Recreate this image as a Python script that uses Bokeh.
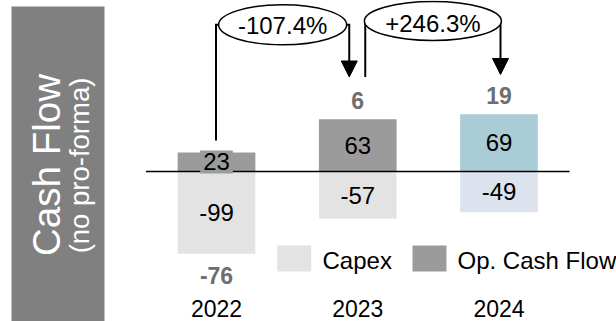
import numpy as np
from bokeh.plotting import figure
from bokeh.models import Range1d, Arrow, NormalHead, ColumnDataSource
from bokeh.core.properties import value
from bokeh.embed import file_html
from bokeh.resources import INLINE

# ---- data -------------------------------------------------------------
years = ["2022", "2023", "2024"]
op_cash_flow = [23, 63, 69]
capex = [-99, -57, -49]
net_cash_flow = [-76, 6, 19]
yoy_change = ["-107.4%", "+246.3%"]
legend_labels = ["Capex", "Op. Cash Flow"]

# ---- styling ----------------------------------------------------------
op_colors = ["#9b9b9b", "#9b9b9b", "#a9ccd6"]
capex_colors = ["#e3e3e3", "#e3e3e3", "#dce3ee"]
net_color = "#6e6e6e"
band_color = "#808080"
FONT = "Liberation Sans"

W, H = 616, 321
PX_PER_CAT = 141.25   # horizontal pixels between year slots
PX_PER_UNIT = 0.83    # vertical pixels per unit of value
X0 = 216              # pixel column of the first year slot
Y0 = 171              # pixel row of the zero line


def dx(px):
    return (px - X0) / PX_PER_CAT


def dy(py):
    return (Y0 - py) / PX_PER_UNIT


def label(x, y, text, size, color="black", **kw):
    kw.setdefault("text_align", "center")
    p.text(x=x, y=y, text=text, text_baseline="middle", text_color=color,
           text_font=value(FONT), text_font_size=value(size), **kw)


p = figure(width=W, height=H,
           x_range=Range1d(dx(0), dx(W)), y_range=Range1d(dy(H), dy(0)),
           x_axis_type=None, y_axis_type=None,
           toolbar_location=None, output_backend="svg",
           min_border=0, outline_line_color=None,
           background_fill_color="white", border_fill_color="white")
p.grid.visible = False

# ---- side title band --------------------------------------------------
p.quad(left=dx(11), right=dx(104), top=dy(6), bottom=dy(H),
       fill_color=band_color, line_color=None)
label([dx(45.5)], [dy(164.5)], ["Cash Flow"], "38.5px", "white", angle=np.pi / 2)
label([dx(78.5)], [dy(165)], ["(no pro-forma)"], "27.5px", "white", angle=np.pi / 2)

# ---- bars -------------------------------------------------------------
idx = np.arange(len(years), dtype=float)
BAR_W = 0.55
src = ColumnDataSource(dict(
    x=idx,
    op=op_cash_flow,
    capex=capex,
    op_mid=[v / 2 for v in op_cash_flow],
    capex_mid=[v / 2 for v in capex],
    op_txt=[str(v) for v in op_cash_flow],
    capex_txt=[str(v) for v in capex],
    op_color=op_colors,
    capex_color=capex_colors,
))
p.vbar(x="x", top="capex", bottom=0, width=BAR_W, fill_color="capex_color",
       line_color=None, source=src)
p.vbar(x="x", top="op", bottom=0, width=BAR_W, fill_color="op_color",
       line_color=None, source=src)

# zero line spanning the year slots
p.line(x=[idx[0] - 0.5, idx[-1] + 0.5], y=[0, 0], line_color="black", line_width=1.5)

# value labels inside the bars
label("x", "op_mid", "op_txt", "24px", source=src,
      background_fill_color="op_color", padding=3)
label("x", "capex_mid", "capex_txt", "24px", source=src)

# net totals, above positive stacks and below negative ones
net_y = [o if n >= 0 else c for o, c, n in zip(op_cash_flow, capex, net_cash_flow)]
net_off = [-18.5 if n >= 0 else 22 for n in net_cash_flow]
label(idx, net_y, [str(n) for n in net_cash_flow], "23px", net_color,
      y_offset=net_off, text_font_style="bold")

# year labels
label(idx, [dy(308)] * len(years), years, "23px")

# ---- year-over-year connectors ----------------------------------------
# (from slot, pixel shift, start row) -> (to slot, pixel shift, tip row)
links = [
    dict(a=0, a_shift=-0.5, y_start=140, y_top=24.3, b=1, b_shift=-8.5, y_tip=76.5,
         w=128, h=40, text_mid=25),
    dict(a=1, a_shift=7.5, y_start=76.5, y_top=20.5, b=2, b_shift=1.5, y_tip=74,
         w=137, h=39, text_mid=23),
]
for link, txt in zip(links, yoy_change):
    xa = idx[link["a"]] + link["a_shift"] / PX_PER_CAT
    xb = idx[link["b"]] + link["b_shift"] / PX_PER_CAT
    p.line(x=[xa, xa, xb, xb],
           y=[dy(link["y_start"]), dy(link["y_top"]), dy(link["y_top"]), dy(link["y_tip"] - 8)],
           line_color="black", line_width=2, line_join="miter")
    xc = (xa + xb) / 2
    p.ellipse(x=[xc], y=[dy(link["y_top"])], width=link["w"], height=link["h"],
              width_units="screen", height_units="screen",
              fill_color="white", line_color="black", line_width=1.5)
    label([xc], [dy(link["text_mid"])], [txt], "24px")
    p.add_layout(Arrow(end=NormalHead(size=16, fill_color="black", line_color="black",
                                      line_width=1),
                       x_start=xb, y_start=dy(link["y_tip"] - 12),
                       x_end=xb, y_end=dy(link["y_tip"]),
                       line_alpha=0))

# ---- legend -----------------------------------------------------------
sw_x = [dx(293.7), dx(429)]
lab_x = [dx(322), dx(457)]
p.rect(x=sw_x, y=[dy(258)] * 2, width=34, height=26,
       width_units="screen", height_units="screen",
       fill_color=[capex_colors[0], op_colors[0]], line_color=None)
label(lab_x, [dy(259.5)] * 2, legend_labels, "24px", text_align="left")

open("out.html", "w").write(file_html(p, INLINE))
